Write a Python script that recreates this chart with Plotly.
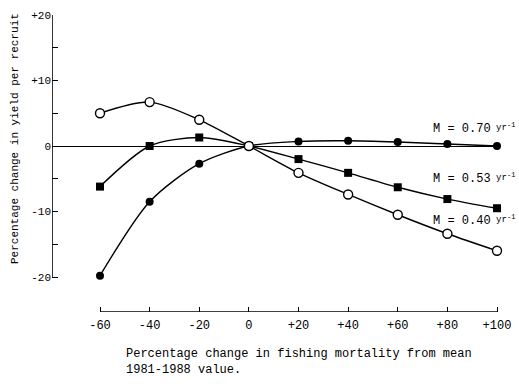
import plotly.graph_objects as go

W, H = 519, 384

# ---- data ----
x_vals = [-60, -40, -20, 0, 20, 40, 60, 80, 100]
m040 = [5.0, 6.7, 4.0, 0.0, -4.1, -7.4, -10.5, -13.4, -16.0]
m053 = [-6.2, 0.0, 1.3, 0.0, -2.0, -4.1, -6.3, -8.1, -9.5]
m070 = [-19.8, -8.5, -2.7, 0.0, 0.7, 0.8, 0.6, 0.3, 0.0]
y_ticks = [-20, -10, 0, 10, 20]
y_tick_labels = ["-20", "-10", "0", "+10", "+20"]
y_minor = [-15, -5, 5, 15]
x_ticks = [-60, -40, -20, 0, 20, 40, 60, 80, 100]
x_tick_labels = ["-60", "-40", "-20", "0", "+20", "+40", "+60", "+80", "+100"]
series_labels = ["M = 0.70", "M = 0.53", "M = 0.40"]

FONT = "Liberation Mono"

# plot area in pixels
L, R, T, B = 52, 500, 15, 312
# x: -60 -> px 100, +100 -> px 497
xs = (497 - 100) / 160.0
x_lo = -60 - (100 - L) / xs
x_hi = 100 + (R - 497) / xs
# y: +20 -> px 15, -20 -> px 277
ys = (277 - 15) / 40.0
y_hi = 20
y_lo = -20 - (B - 277) / ys

fig = go.Figure()

line = dict(color="black", width=1.4, shape="spline", smoothing=0.8)

fig.add_trace(go.Scatter(
    x=x_vals, y=m070, mode="lines+markers", line=line,
    marker=dict(symbol="circle", size=8, color="black"),
    cliponaxis=False, showlegend=False))
fig.add_trace(go.Scatter(
    x=x_vals, y=m053, mode="lines+markers", line=line,
    marker=dict(symbol="square", size=8, color="black"),
    cliponaxis=False, showlegend=False))
fig.add_trace(go.Scatter(
    x=x_vals, y=m040, mode="lines+markers", line=line,
    marker=dict(symbol="circle", size=9, color="white",
                line=dict(color="black", width=1.4)),
    cliponaxis=False, showlegend=False))

fig.update_layout(
    template="none",
    width=W, height=H,
    margin=dict(l=L, r=W - R, t=T, b=H - B, pad=0, autoexpand=False),
    paper_bgcolor="white", plot_bgcolor="white",
    font=dict(family=FONT, color="black", size=11),
    xaxis=dict(domain=[0, 1], range=[x_lo, x_hi], automargin=False,
               showline=False,
               ticks="inside", ticklen=5, tickwidth=1.3, tickcolor="black",
               tickmode="array", tickvals=x_ticks, ticktext=x_tick_labels,
               tickfont=dict(family=FONT, size=12), ticklabelstandoff=4,
               showgrid=False, zeroline=False),
    yaxis=dict(domain=[0, 1], range=[y_lo, y_hi], automargin=False,
               showline=False,
               ticks="inside", ticklen=6, tickwidth=1.3, tickcolor="black",
               tickmode="array", tickvals=y_ticks, ticktext=y_tick_labels,
               tickfont=dict(family=FONT, size=11),
               minor=dict(tickmode="array", tickvals=y_minor, ticks="inside",
                          ticklen=6, tickwidth=1.3, tickcolor="black",
                          showgrid=False),
               showgrid=False, zeroline=True, zerolinecolor="black",
               zerolinewidth=1.3),
)


def ppx(x):
    # pixel -> paper (paper spans the plot area)
    return (x - L) / (R - L)


def ppy(y):
    return (B - y) / (B - T)


# axis lines spanning only the labelled ranges
fig.add_shape(type="line", xref="x", yref="y",
              x0=x_ticks[0], x1=x_ticks[-1], y0=y_lo, y1=y_lo,
              line=dict(color="black", width=1.3))
fig.add_shape(type="line", xref="x", yref="y",
              x0=x_lo, x1=x_lo, y0=y_ticks[0], y1=y_ticks[-1],
              line=dict(color="black", width=1.6))

label_y = [129, 179, 221]
for txt, yy in zip(series_labels, label_y):
    fig.add_annotation(
        xref="paper", yref="paper", x=ppx(431), y=ppy(yy),
        xanchor="left", yanchor="middle", showarrow=False,
        text=txt, font=dict(family=FONT, size=12))
    fig.add_annotation(
        xref="paper", yref="paper", x=ppx(494), y=ppy(yy - 1),
        xanchor="left", yanchor="middle", showarrow=False,
        text="yr", font=dict(family=FONT, size=9))
    fig.add_annotation(
        xref="paper", yref="paper", x=ppx(505), y=ppy(yy - 4),
        xanchor="left", yanchor="middle", showarrow=False,
        text="-1", font=dict(family=FONT, size=7))

fig.add_annotation(
    xref="paper", yref="paper", x=ppx(15), y=ppy(139),
    xanchor="center", yanchor="middle", showarrow=False, textangle=-90,
    text="Percentage change in yield per recruit",
    font=dict(family=FONT, size=11))

fig.add_annotation(
    xref="paper", yref="paper", x=ppx(124), y=ppy(345),
    xanchor="left", yanchor="top", showarrow=False, align="left",
    text="Percentage change in fishing mortality from mean<br>1981-1988 value.",
    font=dict(family=FONT, size=12))

fig.write_html("out.html")
